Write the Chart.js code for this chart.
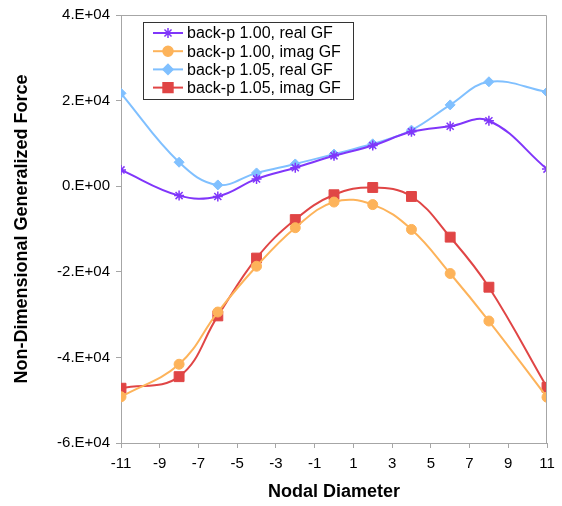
<!DOCTYPE html>
<html>
<head>
<meta charset="utf-8">
<script src="https://cdn.jsdelivr.net/npm/chart.js@4.4.1/dist/chart.umd.min.js"></script>
<style>
  html, body { margin: 0; padding: 0; background: #fff; }
  #wrap { width: 562px; height: 506px; }
</style>
</head>
<body>
<div id="wrap"><canvas id="gfChart" width="562" height="506"></canvas></div>
<script>
  // nodal diameters where the force was evaluated
  const nodalDiameter = [-11, -8, -6, -4, -2, 0, 2, 4, 6, 8, 11];
  const xTicks = [-11, -9, -7, -5, -3, -1, 1, 3, 5, 7, 9, 11];
  const yTicks = [-60000, -40000, -20000, 0, 20000, 40000];

  const real100 = [3800, -2200, -2400, 1700, 4300, 7100, 9500, 12700, 14000, 15300, 4000];
  const imag100 = [-49200, -41600, -29400, -18700, -9700, -3700, -4300, -10100, -20400, -31500, -49300];
  const real105 = [21700, 5600, 300, 3100, 5200, 7500, 9900, 13100, 19000, 24400, 22000];
  const imag105 = [-47200, -44500, -30300, -16800, -7800, -2000, -300, -2400, -11900, -23600, -47000];

  const seriesNames = ["back-p 1.00, real GF", "back-p 1.00, imag GF", "back-p 1.05, real GF", "back-p 1.05, imag GF"];

  const font = "'Liberation Sans', Arial, Helvetica, sans-serif";
  const axisGray = "#a6a6a6";

  function pts(ys) {
    return nodalDiameter.map((x, i) => ({ x: x, y: ys[i] }));
  }

  function sciLabel(v) {
    if (v === 0) return "0.E+00";
    const e = Math.floor(Math.log10(Math.abs(v)) + 1e-9);
    const m = Math.round(v / Math.pow(10, e));
    return m + ".E+" + String(e).padStart(2, "0");
  }

  // legend box + plot frame drawn by hand (Excel style legend inside the plot)
  const boxLegend = {
    id: "boxLegend",
    afterDraw(chart) {
      const ctx = chart.ctx;
      const a = chart.chartArea;
      ctx.save();
      ctx.strokeStyle = axisGray;
      ctx.lineWidth = 1;
      ctx.beginPath();
      ctx.moveTo(a.left, a.top + 0.5);
      ctx.lineTo(a.right - 0.5, a.top + 0.5);
      ctx.lineTo(a.right - 0.5, a.bottom);
      ctx.stroke();

      const bx = 143, by = 22, bw = 210, bh = 77;
      ctx.fillStyle = "#fff";
      ctx.fillRect(bx, by, bw, bh);
      ctx.strokeStyle = "#333";
      ctx.strokeRect(bx + 0.5, by + 0.5, bw, bh);

      ctx.font = "16px " + font;
      ctx.textBaseline = "middle";
      ctx.textAlign = "left";
      chart.data.datasets.forEach((ds, i) => {
        const cy = by + 11 + i * 18.2;
        ctx.strokeStyle = ds.borderColor;
        ctx.lineWidth = 2;
        ctx.beginPath();
        ctx.moveTo(bx + 10, cy);
        ctx.lineTo(bx + 40, cy);
        ctx.stroke();
        ctx.fillStyle = ds.pointBackgroundColor;
        ctx.strokeStyle = ds.borderColor;
        ctx.lineWidth = 1.5;
        Chart.helpers.drawPoint(ctx, {
          pointStyle: ds.pointStyle, radius: ds.pointRadius, rotation: 0, borderWidth: 1.5
        }, bx + 25, cy);
        ctx.fillStyle = "#000";
        ctx.fillText(ds.label, bx + 44, cy + 1);
      });
      ctx.restore();
    }
  };

  new Chart("gfChart", {
    type: "line",
    data: {
      datasets: [{
        label: seriesNames[0],
        data: pts(real100),
        borderColor: "#8036fa",
        pointBackgroundColor: "#8036fa",
        pointBorderColor: "#8036fa",
        pointStyle: "star",
        pointRadius: 5,
        pointBorderWidth: 1.5
      }, {
        label: seriesNames[1],
        data: pts(imag100),
        borderColor: "#fdb35a",
        pointBackgroundColor: "#fdb35a",
        pointBorderColor: "#fdb35a",
        pointStyle: "circle",
        pointRadius: 5
      }, {
        label: seriesNames[2],
        data: pts(real105),
        borderColor: "#80c0ff",
        pointBackgroundColor: "#80c0ff",
        pointBorderColor: "#80c0ff",
        pointStyle: "rectRot",
        pointRadius: 5
      }, {
        label: seriesNames[3],
        data: pts(imag105),
        borderColor: "#e04545",
        pointBackgroundColor: "#e04545",
        pointBorderColor: "#e04545",
        pointStyle: "rect",
        pointRadius: 7
      }]
    },
    options: {
      responsive: false,
      animation: false,
      devicePixelRatio: 1,
      parsing: true,
      elements: {
        line: { tension: 0.4, borderWidth: 2, fill: false }
      },
      layout: { padding: { left: 0, right: 15, top: 14, bottom: 0 } },
      plugins: {
        legend: { display: false },
        tooltip: { enabled: false }
      },
      scales: {
        x: {
          type: "linear",
          min: -11,
          max: 11,
          afterBuildTicks: (s) => { s.ticks = xTicks.map(v => ({ value: v })); },
          afterFit: (s) => { s.height = 63; },
          grid: { drawOnChartArea: false, color: axisGray, tickLength: 5 },
          border: { color: axisGray },
          ticks: { color: "#000", font: { family: font, size: 15 }, padding: 7, maxRotation: 0 },
          title: {
            display: true,
            text: "Nodal Diameter",
            color: "#000",
            font: { family: font, size: 18, weight: "bold" },
            padding: { top: 0, bottom: 3 }
          }
        },
        y: {
          min: -60000,
          max: 40000,
          afterBuildTicks: (s) => { s.ticks = yTicks.map(v => ({ value: v })); },
          afterFit: (s) => { s.width = 121; },
          grid: { drawOnChartArea: false, color: axisGray, tickLength: 5 },
          border: { color: axisGray },
          ticks: {
            color: "#000",
            font: { family: font, size: 15 },
            padding: 6,
            callback: (v) => sciLabel(v)
          },
          title: {
            display: true,
            text: "Non-Dimensional Generalized Force",
            color: "#000",
            font: { family: font, size: 18, weight: "bold" },
            padding: { top: 11, bottom: 0 }
          }
        }
      }
    },
    plugins: [boxLegend]
  });
</script>
</body>
</html>
